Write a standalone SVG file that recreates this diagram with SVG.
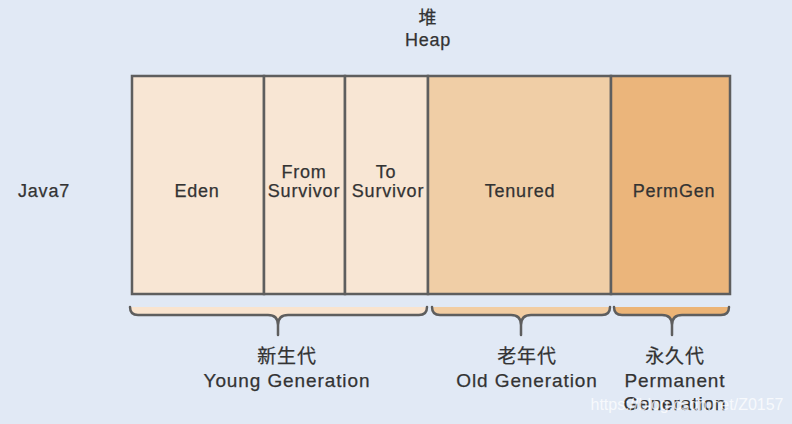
<svg xmlns="http://www.w3.org/2000/svg" width="792" height="424" viewBox="0 0 792 424">
<style>
.t{font-family:"Liberation Sans","Noto Sans CJK SC",sans-serif;font-size:18px;fill:#333333;stroke:#333333;stroke-width:0.25;text-anchor:middle;letter-spacing:0.8px}
.b{font-size:19px;letter-spacing:0.9px}
.cell{stroke:#5e5e5e;stroke-width:2.5}
.brace{stroke:#5e5e5e;stroke-width:2.5;fill:none;stroke-linecap:round}
</style>
<rect width="792" height="424" fill="#e1e9f5"/>
<g id="title"><text class="t" x="428" y="24">堆</text><text class="t" x="428" y="46">Heap</text></g>
<g id="java7"><text class="t" x="44" y="197">Java7</text></g>
<g id="eden"><rect class="cell" x="132" y="76" width="132" height="218" fill="#f8e6d4"/><text class="t" x="197" y="197">Eden</text></g>
<g id="from"><rect class="cell" x="264" y="76" width="81" height="218" fill="#f8e6d4"/><text class="t" x="304" y="178">From</text><text class="t" x="304" y="197">Survivor</text></g>
<g id="to"><rect class="cell" x="345" y="76" width="83" height="218" fill="#f8e6d4"/><text class="t" x="386" y="178">To</text><text class="t" x="388" y="197">Survivor</text></g>
<g id="tenured"><rect class="cell" x="428" y="76" width="183" height="218" fill="#f0cea6"/><text class="t" x="520" y="197">Tenured</text></g>
<g id="permgen"><rect class="cell" x="611" y="76" width="119" height="218" fill="#ebb57b"/><text class="t" x="674" y="197">PermGen</text></g>
<g id="connectors">
<path d="M130,307 Q130,315 138,315 L268,315 Q278,315 278,325 Q278,315 288,315 L419,315 Q427,315 427,307 Z" fill="#f9e4cf"/>
<path class="brace" d="M130,307 Q130,315 138,315 L268,315 Q278,315 278,325 L278,335 M278,325 Q278,315 288,315 L419,315 Q427,315 427,307"/>
<path d="M432,307 Q432,315 440,315 L511,315 Q521,315 521,325 Q521,315 531,315 L602,315 Q610,315 610,307 Z" fill="#f2cda2"/>
<path class="brace" d="M432,307 Q432,315 440,315 L511,315 Q521,315 521,325 L521,335 M521,325 Q521,315 531,315 L602,315 Q610,315 610,307"/>
<path d="M614,307 Q614,315 622,315 L662,315 Q672,315 672,325 Q672,315 682,315 L721,315 Q729,315 729,307 Z" fill="#ecb476"/>
<path class="brace" d="M614,307 Q614,315 622,315 L662,315 Q672,315 672,325 L672,335 M672,325 Q672,315 682,315 L721,315 Q729,315 729,307"/>
</g>
<g id="young"><text class="t b" x="287" y="363">新生代</text><text class="t b" x="287" y="387">Young Generation</text></g>
<g id="old"><text class="t b" x="527" y="363">老年代</text><text class="t b" x="527" y="387">Old Generation</text></g>
<g id="perm"><text class="t b" x="675" y="363">永久代</text><text class="t b" x="675" y="387">Permanent</text><text class="t b" x="675" y="410">Generation</text></g>
<g id="watermark"><text x="687" y="410" font-family="Liberation Sans,sans-serif" font-size="16" fill="#ffffff" fill-opacity="0.75" text-anchor="middle">https://blog.csdn.net/Z0157</text></g>
</svg>
